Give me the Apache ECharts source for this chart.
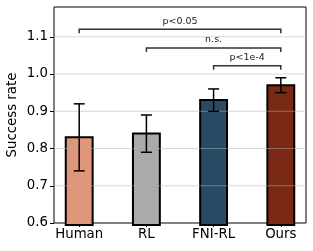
<!DOCTYPE html>
<html><head><meta charset="utf-8">
<script src="https://cdn.jsdelivr.net/npm/echarts@6/dist/echarts.min.js"></script>
<style>html,body{margin:0;padding:0;background:#fff}#c{width:313px;height:251px}</style>
</head><body><div id="c"></div>
<script>
const categories = ['Human', 'RL', 'FNI-RL', 'Ours'];
const values = [0.83, 0.84, 0.93, 0.97];
const errLow = [0.74, 0.79, 0.90, 0.95];
const errHigh = [0.92, 0.89, 0.96, 0.99];
const barColors = ['#E0967A', '#AAAAAA', '#284A64', '#7A2A14'];
const yTicks = [0.6, 0.7, 0.8, 0.9, 1.0, 1.1];
const brackets = [
  {from: 0, to: 3, y: 1.12, label: 'p<0.05'},
  {from: 1, to: 3, y: 1.07, label: 'n.s.'},
  {from: 2, to: 3, y: 1.022, label: 'p<1e-4'}
];
const font = 'DejaVu Sans';
const chart = echarts.init(document.getElementById('c'), null, {renderer: 'canvas'});
const xIdx = categories.map((c, i) => i);
const barHalf = 0.2;
chart.setOption({
  animation: false,
  grid: {left: 54, right: 7, top: 7, bottom: 28, outerBoundsMode: 'none', containLabel: false, show: true, borderColor: '#000', borderWidth: 1, backgroundColor: 'transparent'},
  xAxis: {
    type: 'value', min: -0.375, max: 3.375,
    axisLine: {show: false, onZero: false},
    splitLine: {show: false},
    axisTick: {show: true, customValues: xIdx, length: 4, inside: false, lineStyle: {color: '#000', width: 1}},
    axisLabel: {customValues: xIdx, formatter: v => categories[Math.round(v)], color: '#000', fontFamily: font, fontSize: 13.3, margin: 5}
  },
  yAxis: {
    type: 'value', min: 0.6, max: 1.18,
    name: 'Success rate', nameLocation: 'middle', nameGap: 35, nameMoveOverlap: false,
    nameTextStyle: {color: '#000', fontFamily: font, fontSize: 13.3},
    axisLine: {show: false, onZero: false},
    splitLine: {show: false},
    axisTick: {show: true, customValues: yTicks, length: 4, lineStyle: {color: '#000', width: 1}},
    axisLabel: {customValues: yTicks, formatter: v => v.toFixed(1), color: '#000', fontFamily: font, fontSize: 13.3, margin: 6}
  },
  series: [
    {
      type: 'custom', z: 2,
      data: values.map((v, i) => [i, v]),
      renderItem: (params, api) => {
        const i = params.dataIndex;
        const tl = api.coord([api.value(0) - barHalf, api.value(1)]);
        const br = api.coord([api.value(0) + barHalf, 0.6]);
        return {type: 'rect', shape: {x: tl[0], y: tl[1], width: br[0]-tl[0], height: br[1]-tl[1] + 2},
          style: {fill: barColors[i], stroke: '#000', lineWidth: 2}};
      }
    },
    {
      type: 'custom', z: 3,
      data: yTicks.slice(1).map(v => [0, v]),
      renderItem: (params, api) => {
        const cs = params.coordSys;
        const p = api.coord([0, api.value(1)]);
        return {type: 'line', shape: {x1: cs.x, y1: p[1], x2: cs.x + cs.width, y2: p[1]},
          style: {stroke: '#b0b0b0', lineWidth: 1, opacity: 0.5}};
      }
    },
    {
      type: 'custom', z: 5,
      data: values.map((v, i) => [i, errLow[i], errHigh[i]]),
      renderItem: (params, api) => {
        const lo = api.coord([api.value(0), api.value(1)]);
        const hi = api.coord([api.value(0), api.value(2)]);
        const w = 5.5;
        const st = {stroke: '#000', lineWidth: 1.5};
        return {type: 'group', children: [
          {type: 'line', shape: {x1: lo[0], y1: lo[1], x2: hi[0], y2: hi[1]}, style: st},
          {type: 'line', shape: {x1: lo[0]-w, y1: lo[1], x2: lo[0]+w, y2: lo[1]}, style: st},
          {type: 'line', shape: {x1: hi[0]-w, y1: hi[1], x2: hi[0]+w, y2: hi[1]}, style: st}
        ]};
      }
    },
    {
      type: 'custom', z: 6, clip: false,
      data: brackets.map(b => [b.from, b.to, b.y]),
      renderItem: (params, api) => {
        const b = brackets[params.dataIndex];
        const p1 = api.coord([api.value(0), api.value(2)]);
        const p2 = api.coord([api.value(1), api.value(2)]);
        const d = 4;
        const st = {stroke: '#333', lineWidth: 1.5, fill: null};
        return {type: 'group', children: [
          {type: 'polyline', shape: {points: [[p1[0], p1[1]+d], [p1[0], p1[1]], [p2[0], p2[1]], [p2[0], p2[1]+d]]}, style: st},
          {type: 'text', x: (p1[0]+p2[0])/2, y: p1[1]-3, style: {text: b.label, fill: '#222', font: '9.5px "DejaVu Sans"', textAlign: 'center', textVerticalAlign: 'bottom'}}
        ]};
      }
    }
  ]
});
</script></body></html>
